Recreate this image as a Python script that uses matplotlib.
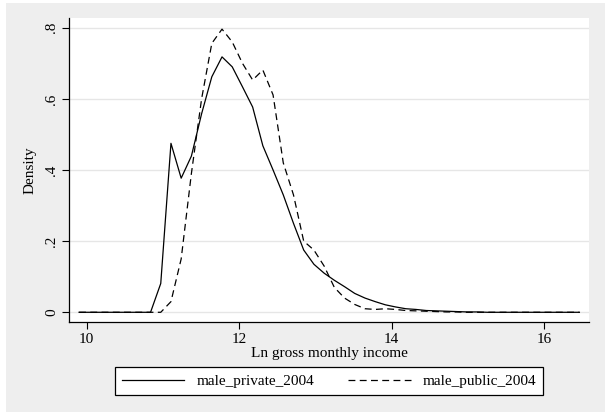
import matplotlib
matplotlib.use("Agg")
import matplotlib.pyplot as plt
from matplotlib.patches import Rectangle

# evaluation grid of the kernel density (50 points)
x_start, x_end, n_points = 9.90, 16.46, 50
grid = [x_start + i * (x_end - x_start) / (n_points - 1) for i in range(n_points)]

male_private_2004 = [
    0, 0, 0, 0, 0, 0, 0, 0, 0.081, 0.475,
    0.377, 0.439, 0.558, 0.662, 0.718, 0.690, 0.634, 0.577, 0.468, 0.40,
    0.33, 0.25, 0.175, 0.135, 0.11, 0.09, 0.072, 0.053, 0.040, 0.030,
    0.021, 0.015, 0.010, 0.008, 0.005, 0.004, 0.003, 0.002, 0.001, 0.001,
    0, 0, 0, 0, 0, 0, 0, 0, 0, 0,
]
male_public_2004 = [
    0, 0, 0, 0, 0, 0, 0, 0, 0, 0.030,
    0.15, 0.39, 0.60, 0.756, 0.796, 0.76, 0.70, 0.653, 0.681, 0.611,
    0.42, 0.33, 0.20, 0.175, 0.13, 0.07, 0.04, 0.022, 0.010, 0.008,
    0.010, 0.008, 0.005, 0.004, 0.003, 0.002, 0.001, 0.001, 0, 0,
    0, 0, 0, 0, 0, 0, 0, 0, 0, 0,
]

x_ticks = [10, 12, 14, 16]
y_ticks = [0, 0.2, 0.4, 0.6, 0.8]
y_tick_labels = ["0", ".2", ".4", ".6", ".8"]

plt.rcParams["font.family"] = ["Liberation Serif", "DejaVu Serif"]

fig = plt.figure(figsize=(6.05, 4.12), dpi=100, facecolor="white")
# gray graph region (small white margin on the left and top)
fig.patches.append(Rectangle((6 / 605, 0), 1, 1 - 3 / 412, transform=fig.transFigure,
                             facecolor="#eeeeee", edgecolor="none", zorder=-10))

ax = fig.add_axes([69 / 605, 1 - 322 / 412, 520 / 605, 304 / 412])
ax.set_facecolor("white")

ax.plot(grid, male_private_2004, color="black", lw=0.9, label="male_private_2004")
ax.plot(grid, male_public_2004, color="black", lw=0.9, linestyle=(0, (5.5, 3.5)),
        label="male_public_2004")

ax.set_xlim(9.768, 16.586)
ax.set_ylim(-0.0273, 0.8273)
ax.set_xticks(x_ticks)
ax.set_xticklabels([str(t) for t in x_ticks])
ax.set_yticks(y_ticks)
ax.set_yticklabels(y_tick_labels)
ax.yaxis.grid(True, color="#e6e6e6", lw=1.0)
ax.set_axisbelow(True)

for side in ["top", "right"]:
    ax.spines[side].set_visible(False)
for side in ["left", "bottom"]:
    ax.spines[side].set_linewidth(0.9)

ax.tick_params(axis="both", direction="out", length=5, width=0.8, labelsize=11, pad=3)
ax.tick_params(axis="y", labelrotation=90)
for lab in ax.get_yticklabels():
    lab.set_va("center")

ax.set_xlabel("Ln gross monthly income", fontsize=11, labelpad=1)
ax.set_ylabel("Density", fontsize=11, labelpad=6)

leg = fig.legend(loc="center", bbox_to_anchor=(329 / 605, 1 - 381 / 412), ncol=2,
                 fontsize=11, frameon=True, fancybox=False, edgecolor="black",
                 facecolor="white", framealpha=1, handlelength=4.1,
                 handletextpad=0.8, columnspacing=2.2, borderpad=0.45)
leg.get_frame().set_linewidth(0.9)

fig.savefig("out.png", dpi=100, facecolor=fig.get_facecolor())
